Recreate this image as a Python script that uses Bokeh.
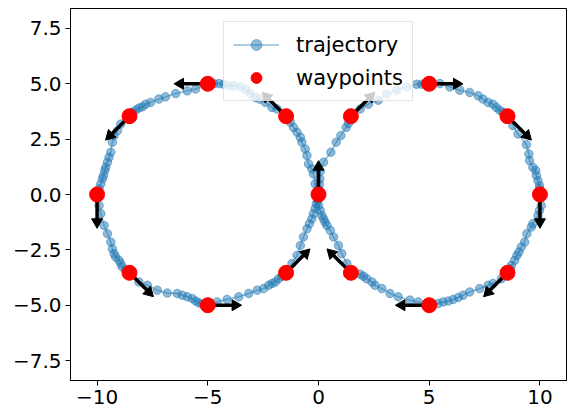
import numpy as np
from bokeh.plotting import figure
from bokeh.models import Range1d, FixedTicker, Legend, LegendItem
from bokeh.embed import file_html
from bokeh.resources import INLINE

# ---- data ----
traj_x = [
    0.0, 0.02, 0.04, 0.06, 0.08, 0.23, 0.56, 0.80, 1.01, 1.25, 1.35, 1.464,
    1.88, 2.25, 2.70, 3.08, 3.53, 3.98, 4.43, 4.66, 4.81, 5.0,
    5.48, 5.93, 6.38, 6.83, 7.21, 7.43, 7.66, 7.88, 8.03, 8.18, 8.33, 8.536,
    8.78, 9.01, 9.39, 9.50, 9.53, 9.68, 9.81, 9.84, 9.91, 9.98, 9.98, 10.0,
    10.06, 9.98, 9.91, 9.68, 9.61, 9.41, 9.31, 9.16, 9.05, 8.96, 8.86, 8.71, 8.66, 8.536,
    8.26, 7.88, 7.66, 7.28, 6.83, 6.53, 6.31, 6.08, 5.86, 5.63, 5.41, 5.18, 5.0,
    4.50, 4.13, 3.60, 3.23, 2.86, 2.55, 2.41, 2.18, 2.03, 1.88, 1.464,
    1.28, 1.05, 0.90, 0.68, 0.53, 0.38, 0.30, 0.23, 0.15, 0.08, 0.0, -0.03, 0.0,
    -0.04, -0.15, -0.23, -0.30, -0.45, -0.52, -0.60, -0.75, -0.82, -0.97, -1.13, -1.27, -1.464,
    -1.87, -2.10, -2.40, -2.66, -2.85, -3.08, -3.30, -3.53, -3.83, -4.05, -4.28, -4.50, -4.73, -5.0,
    -5.55, -5.93, -6.45, -6.91, -7.21, -7.58, -7.81, -7.95, -8.11, -8.26, -8.41, -8.536,
    -8.93, -9.08, -9.23, -9.31, -9.38, -9.46, -9.53, -9.61, -9.65, -9.71, -9.76, -9.83, -9.91, -10.0,
    -9.91, -9.83, -9.68, -9.53, -9.38, -9.31, -9.23, -9.16, -9.01, -8.93, -8.86, -8.71, -8.536,
    -8.11, -7.73, -7.28, -6.83, -6.38, -6.15, -5.93, -5.70, -5.55, -5.41, -5.25, -5.0,
    -4.58, -4.13, -3.60, -3.15, -2.77, -2.48, -2.25, -2.10, -1.95, -1.80, -1.65, -1.464,
    -1.20, -0.97, -0.82, -0.68, -0.52, -0.41, -0.30, -0.23, -0.15, -0.10, -0.05, 0.0,
]
traj_y = [
    0.0, 0.22, 0.45, 0.70, 1.04, 1.46, 1.91, 2.36, 2.66, 3.03, 3.21, 3.536,
    3.86, 4.08, 4.26, 4.54, 4.71, 4.86, 4.98, 4.98, 4.99, 5.0,
    5.01, 4.86, 4.71, 4.61, 4.46, 4.31, 4.16, 4.08, 3.93, 3.81, 3.71, 3.536,
    3.11, 2.73, 2.25, 1.83, 1.53, 1.23, 1.08, 0.86, 0.63, 0.41, 0.26, 0.0,
    -0.50, -0.72, -0.95, -1.32, -1.47, -1.77, -2.15, -2.37, -2.60, -2.75, -2.97, -3.20, -3.35, -3.536,
    -3.80, -4.02, -4.10, -4.25, -4.40, -4.55, -4.65, -4.74, -4.81, -4.85, -4.92, -4.95, -5.0,
    -4.85, -4.77, -4.62, -4.47, -4.25, -4.10, -3.95, -3.80, -3.69, -3.60, -3.536,
    -3.12, -2.67, -2.30, -1.92, -1.62, -1.40, -1.25, -1.10, -0.95, -0.72, -0.50, -0.27, 0.0,
    0.22, 0.48, 0.93, 1.16, 1.38, 1.76, 2.06, 2.36, 2.58, 2.81, 3.03, 3.26, 3.536,
    3.86, 3.93, 4.16, 4.31, 4.38, 4.56, 4.76, 4.86, 4.91, 4.91, 4.98, 5.01, 5.01, 5.0,
    4.76, 4.68, 4.56, 4.41, 4.31, 4.16, 4.08, 3.96, 3.91, 3.81, 3.71, 3.536,
    3.18, 2.88, 2.66, 2.36, 1.91, 1.68, 1.46, 1.23, 1.08, 0.86, 0.71, 0.48, 0.26, 0.0,
    -0.50, -0.87, -1.40, -1.77, -2.15, -2.45, -2.67, -2.82, -2.97, -3.12, -3.27, -3.42, -3.536,
    -3.95, -4.10, -4.32, -4.45, -4.47, -4.55, -4.62, -4.70, -4.81, -4.89, -4.95, -5.0,
    -4.85, -4.74, -4.62, -4.47, -4.32, -4.25, -4.10, -4.02, -3.95, -3.80, -3.69, -3.536,
    -3.12, -2.75, -2.30, -1.92, -1.55, -1.32, -1.10, -0.87, -0.64, -0.42, -0.19, 0.0,
]

wp_x = [0.0, 1.464, 5.0, 8.536, 10.0, 8.536, 5.0, 1.464,
        -1.464, -5.0, -8.536, -10.0, -8.536, -5.0, -1.464]
wp_y = [0.0, 3.536, 5.0, 3.536, 0.0, -3.536, -5.0, -3.536,
        3.536, 5.0, 3.536, 0.0, -3.536, -5.0, -3.536]
wp_heading_deg = [90, 45, 0, -45, -90, -135, 180, 135,
                  135, 180, -135, -90, -45, 0, 45]
arrow_len = 1.5

x_ticks = [-10, -5, 0, 5, 10]
x_tick_labels = ["\u221210", "\u22125", "0", "5", "10"]
y_ticks = [-7.5, -5.0, -2.5, 0.0, 2.5, 5.0, 7.5]
y_tick_labels = ["\u22127.5", "\u22125.0", "\u22122.5", "0.0", "2.5", "5.0", "7.5"]

FONT = "DejaVu Sans"

p = figure(width=578, height=417, output_backend="svg", toolbar_location=None,
           x_range=Range1d(-11.2, 11.2), y_range=Range1d(-8.4, 8.4),
           min_border_left=70, min_border_right=12, min_border_top=8,
           min_border_bottom=37)

# trajectory
line_r = p.line(traj_x, traj_y, line_color="#1f77b4", line_alpha=0.5, line_width=1.5)
traj_r = p.scatter(traj_x, traj_y, marker="circle", size=8.5,
                   fill_color="#1f77b4", fill_alpha=0.5,
                   line_color="#1f77b4", line_alpha=0.5)

# arrows (shaft + head) from waypoint headings
wx = np.array(wp_x)
wy = np.array(wp_y)
h = np.radians(np.array(wp_heading_deg, dtype=float))
ux, uy = np.cos(h), np.sin(h)
head_off = 0.26
p.segment(wx, wy, wx + (arrow_len - 0.3) * ux, wy + (arrow_len - 0.3) * uy,
          line_color="black", line_width=3.5)
p.scatter(wx + (arrow_len - head_off) * ux, wy + (arrow_len - head_off) * uy,
          marker="triangle", size=11, angle=h - np.pi / 2,
          fill_color="black", line_color="black", line_width=1)

# waypoints
wp_r = p.scatter(wp_x, wp_y, marker="circle", size=15,
                 fill_color="red", line_color="red")

legend = Legend(items=[LegendItem(label="trajectory", renderers=[line_r, traj_r]),
                       LegendItem(label="waypoints", renderers=[wp_r])],
                location="top_center")
legend.label_text_font = FONT
legend.label_text_font_size = "21px"
legend.label_text_color = "black"
legend.background_fill_alpha = 0.8
legend.border_line_color = "#cccccc"
legend.margin = 13
legend.padding = 9
legend.spacing = 6
legend.glyph_width = 46
legend.glyph_height = 27
legend.label_height = 27
legend.label_standoff = 17
p.add_layout(legend)

# axes
p.xaxis.ticker = FixedTicker(ticks=x_ticks)
p.xaxis.major_label_overrides = dict(zip(x_ticks, x_tick_labels))
p.yaxis.ticker = FixedTicker(ticks=y_ticks)
p.yaxis.major_label_overrides = dict(zip(y_ticks, y_tick_labels))
for ax in (p.xaxis, p.yaxis):
    ax.major_label_text_font = FONT
    ax.major_label_text_font_size = "20px"
    ax.major_label_text_color = "black"
    ax.axis_line_color = "black"
    ax.major_tick_line_color = "black"
    ax.major_tick_out = 5
    ax.major_tick_in = 0
    ax.minor_tick_out = 0
    ax.minor_tick_in = 0
    ax.major_label_standoff = 4
p.grid.visible = False
p.outline_line_color = "black"
p.outline_line_alpha = 1.0
p.outline_line_width = 1

open("out.html", "w").write(file_html(p, INLINE))
